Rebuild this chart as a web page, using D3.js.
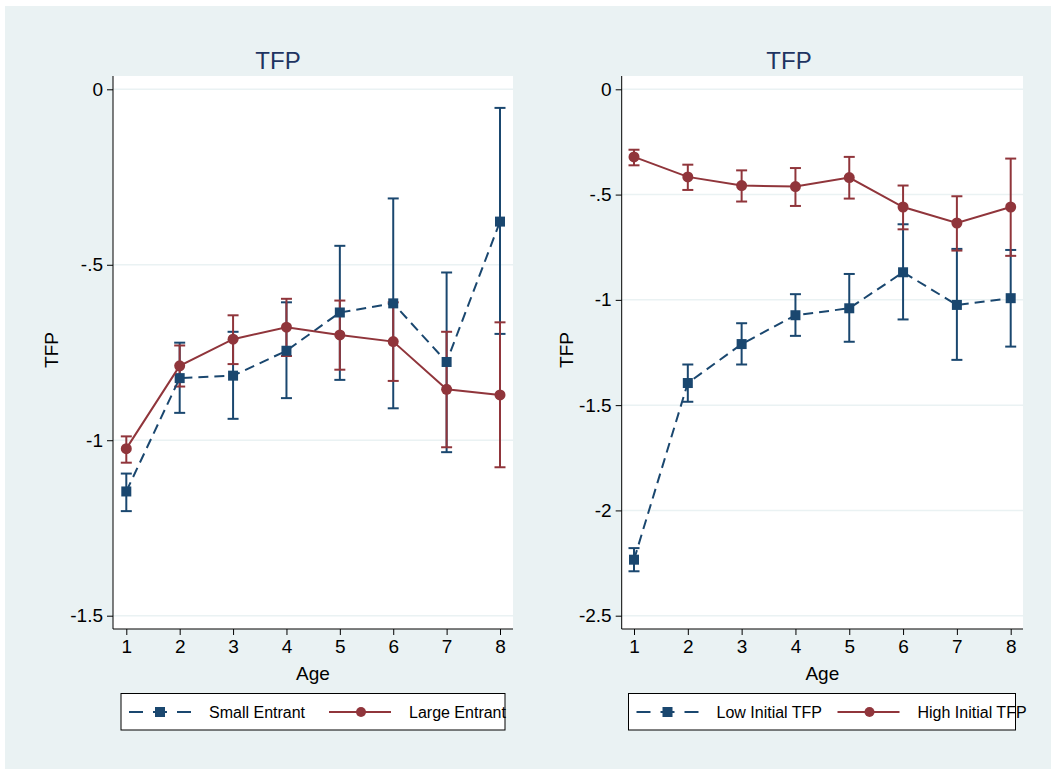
<!DOCTYPE html>
<html>
<head>
<meta charset="utf-8">
<script src="https://cdn.jsdelivr.net/npm/d3@7"></script>
<style>
  body { margin: 0; background: #fff; }
  text { font-family: "Liberation Sans", Arial, sans-serif; }
</style>
</head>
<body>
<div id="chart"></div>
<script>
// data
const ages = [1, 2, 3, 4, 5, 6, 7, 8];

// left panel: entrant size
const smallMean = [-1.146, -0.823, -0.816, -0.745, -0.636, -0.610, -0.777, -0.377];
const smallHi   = [-1.095, -0.722, -0.691, -0.607, -0.446, -0.311, -0.522, -0.053];
const smallLo   = [-1.202, -0.922, -0.939, -0.880, -0.828, -0.909, -1.034, -0.697];
const largeMean = [-1.024, -0.788, -0.712, -0.678, -0.700, -0.719, -0.855, -0.871];
const largeHi   = [-0.989, -0.730, -0.644, -0.597, -0.602, -0.607, -0.691, -0.664];
const largeLo   = [-1.064, -0.847, -0.783, -0.760, -0.799, -0.831, -1.020, -1.077];

// right panel: initial TFP
const lowMean  = [-2.234, -1.395, -1.210, -1.073, -1.040, -0.869, -1.024, -0.992];
const lowHi    = [-2.179, -1.307, -1.111, -0.973, -0.877, -0.641, -0.758, -0.763];
const lowLo    = [-2.289, -1.484, -1.307, -1.171, -1.199, -1.093, -1.285, -1.222];
const highMean = [-0.321, -0.416, -0.457, -0.462, -0.419, -0.559, -0.635, -0.559];
const highHi   = [-0.287, -0.358, -0.385, -0.374, -0.321, -0.457, -0.508, -0.329];
const highLo   = [-0.361, -0.478, -0.533, -0.554, -0.519, -0.665, -0.766, -0.791];

const leftTicks = [0, -0.5, -1, -1.5];
const leftTickLabels = ["0", "-.5", "-1", "-1.5"];
const rightTicks = [0, -0.5, -1, -1.5, -2, -2.5];
const rightTickLabels = ["0", "-.5", "-1", "-1.5", "-2", "-2.5"];

const blue = "#1a476f", red = "#90353b", bg = "#eaf2f3";

const W = 1051, H = 769;
const svg = d3.select("#chart").append("svg")
  .attr("width", W).attr("height", H);

svg.append("rect").attr("x", 5).attr("y", 6)
  .attr("width", W - 5).attr("height", H - 6).attr("fill", bg);

function panel(opt) {
  const g = svg.append("g");
  const x = d3.scaleLinear().domain([1, 8]).range([opt.x1, opt.x8]);
  const y = d3.scaleLinear().domain([opt.ymin, 0]).range([opt.yminPx, 89.3]);
  const top = 76, bottom = 629;

  // plot region
  g.append("rect")
    .attr("x", opt.left).attr("y", top)
    .attr("width", opt.right - opt.left).attr("height", bottom - top)
    .attr("fill", "#fff");

  // gridlines
  g.selectAll(".grid").data(opt.ticks).join("line")
    .attr("x1", opt.left).attr("x2", opt.right)
    .attr("y1", d => y(d)).attr("y2", d => y(d))
    .attr("stroke", bg).attr("stroke-width", 1.5);

  // y axis
  const ya = g.append("g")
    .attr("transform", "translate(" + opt.left + ",0)")
    .call(d3.axisLeft(y).tickValues(opt.ticks)
      .tickFormat((d, i) => opt.tickLabels[i]).tickSize(6).tickPadding(4));
  ya.select(".domain").attr("d", "M0," + top + "V" + bottom).attr("stroke", "#000");
  ya.selectAll(".tick line").attr("stroke", "#000");
  ya.selectAll("text").attr("font-size", 19).attr("fill", "#000")
    .attr("font-family", "Liberation Sans, Arial, sans-serif");

  // x axis
  const xa = g.append("g")
    .attr("transform", "translate(0," + bottom + ")")
    .call(d3.axisBottom(x).tickValues(ages).tickFormat(d3.format("d"))
      .tickSize(6).tickPadding(5));
  xa.select(".domain").attr("d", "M" + opt.left + ",0H" + opt.right).attr("stroke", "#000");
  xa.selectAll(".tick line").attr("stroke", "#000");
  xa.selectAll("text").attr("font-size", 19).attr("fill", "#000")
    .attr("font-family", "Liberation Sans, Arial, sans-serif");

  // titles
  g.append("text").attr("x", opt.titleX).attr("y", 69)
    .attr("text-anchor", "middle").attr("font-size", 24).attr("fill", "#1e3461")
    .text("TFP");
  g.append("text").attr("x", (opt.left + opt.right) / 2).attr("y", 680)
    .attr("text-anchor", "middle").attr("font-size", 19).text("Age");
  g.append("text")
    .attr("transform", "translate(" + opt.ylabX + ",350) rotate(-90)")
    .attr("text-anchor", "middle").attr("font-size", 19).text("TFP");

  // series
  opt.series.forEach(s => {
    const rows = ages.map((a, i) => ({ a: a, m: s.mean[i], lo: s.lo[i], hi: s.hi[i] }));
    const cg = g.append("g").attr("stroke", s.color).attr("stroke-width", 2);
    cg.selectAll(".v").data(rows).join("line")
      .attr("x1", d => x(d.a)).attr("x2", d => x(d.a))
      .attr("y1", d => y(d.hi)).attr("y2", d => y(d.lo));
    cg.selectAll(".ch").data(rows).join("line")
      .attr("x1", d => x(d.a) - 5.5).attr("x2", d => x(d.a) + 5.5)
      .attr("y1", d => y(d.hi)).attr("y2", d => y(d.hi));
    cg.selectAll(".cl").data(rows).join("line")
      .attr("x1", d => x(d.a) - 5.5).attr("x2", d => x(d.a) + 5.5)
      .attr("y1", d => y(d.lo)).attr("y2", d => y(d.lo));
    s.rows = rows;
  });
  opt.series.forEach(s => {
    g.append("path").datum(s.rows)
      .attr("fill", "none").attr("stroke", s.color).attr("stroke-width", 2)
      .attr("stroke-dasharray", s.dash ? "10,6" : null)
      .attr("d", d3.line().x(d => x(d.a)).y(d => y(d.m)));
    if (s.square) {
      g.selectAll(null).data(s.rows).join("rect")
        .attr("x", d => x(d.a) - 5).attr("y", d => y(d.m) - 5)
        .attr("width", 10).attr("height", 10).attr("fill", s.color);
    } else {
      g.selectAll(null).data(s.rows).join("circle")
        .attr("cx", d => x(d.a)).attr("cy", d => y(d.m)).attr("r", 5.5)
        .attr("fill", s.color);
    }
  });

  // legend
  const lg = g.append("g");
  lg.append("rect").attr("x", opt.legX).attr("y", 693.5)
    .attr("width", opt.legW).attr("height", 36.5)
    .attr("fill", "#fff").attr("stroke", "#000").attr("stroke-width", 1);
  const ly = 712;
  opt.series.forEach((s, i) => {
    const sx = opt.legX + (i === 0 ? 8 : opt.leg2);
    lg.append("line").attr("x1", sx).attr("x2", sx + 62)
      .attr("y1", ly).attr("y2", ly).attr("stroke", s.color).attr("stroke-width", 2)
      .attr("stroke-dasharray", s.dash ? "14,10" : null);
    if (s.square) {
      lg.append("rect").attr("x", sx + 31 - 5).attr("y", ly - 5)
        .attr("width", 10).attr("height", 10).attr("fill", s.color);
    } else {
      lg.append("circle").attr("cx", sx + 32).attr("cy", ly).attr("r", 5)
        .attr("fill", s.color);
    }
    lg.append("text").attr("x", sx + 80).attr("y", ly + 5.5)
      .attr("font-size", 16).text(s.name);
  });
}

panel({
  left: 113, right: 513, x1: 126.3, x8: 500,
  ymin: -1.5, yminPx: 615.7, ticks: leftTicks, tickLabels: leftTickLabels,
  titleX: 278, ylabX: 58, legX: 121, legW: 384, leg2: 208,
  series: [
    { name: "Small Entrant", mean: smallMean, lo: smallLo, hi: smallHi, color: blue, dash: true, square: true },
    { name: "Large Entrant", mean: largeMean, lo: largeLo, hi: largeHi, color: red, dash: false, square: false }
  ]
});

panel({
  left: 621.7, right: 1023, x1: 634, x8: 1010.7,
  ymin: -2.5, yminPx: 615.7, ticks: rightTicks, tickLabels: rightTickLabels,
  titleX: 789, ylabX: 573, legX: 628.5, legW: 387, leg2: 209,
  series: [
    { name: "Low Initial TFP", mean: lowMean, lo: lowLo, hi: lowHi, color: blue, dash: true, square: true },
    { name: "High Initial TFP", mean: highMean, lo: highLo, hi: highHi, color: red, dash: false, square: false }
  ]
});
</script>
</body>
</html>
